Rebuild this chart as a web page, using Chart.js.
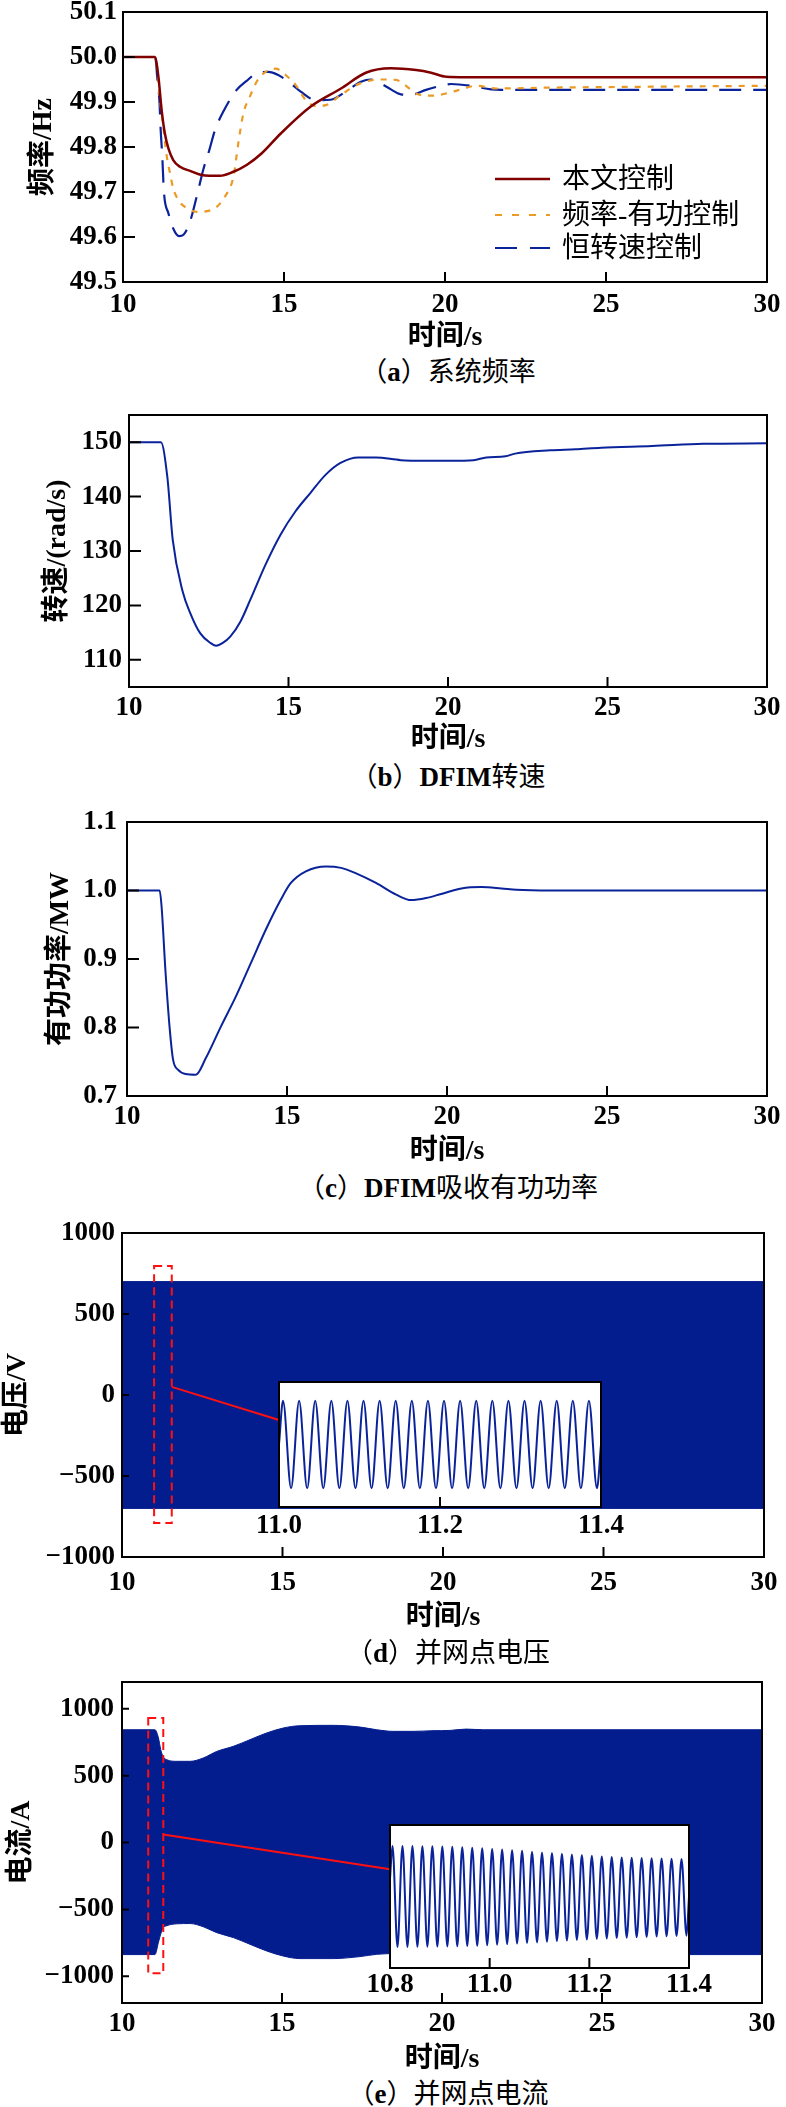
<!DOCTYPE html>
<html>
<head>
<meta charset="utf-8">
<script src="https://cdn.jsdelivr.net/npm/chart.js@4.4.1/dist/chart.umd.min.js"></script>
<style>
  body { margin: 0; background: #fff; }
  #page { position: relative; width: 786px; height: 2107px; overflow: hidden; background: #fff; }
  canvas { position: absolute; }
  .cap { position: absolute; left: 148px; width: 600px; text-align: center; font: 27px/28px 'Liberation Serif', 'Noto Sans CJK SC', serif; color: #000; }
  .leg { position: absolute; left: 562px; font: 28px/28px 'Liberation Serif', 'Noto Sans CJK SC', serif; color: #000; white-space: nowrap; }
  .legline { position: absolute; left: 495px; }
</style>
</head>
<body>
<div id="page">
  <canvas id="pa"></canvas>
  <canvas id="pb"></canvas>
  <canvas id="pc"></canvas>
  <canvas id="pd"></canvas>
  <canvas id="pe"></canvas>
  <canvas id="insd"></canvas>
  <canvas id="inse"></canvas>
</div>
<script>
// ---- data ----
const xTicks = [10, 15, 20, 25, 30];

// (a) system frequency, Hz
const seriesNames = ['本文控制', '频率-有功控制', '恒转速控制'];
const tRed = [10, 10.99, 11.10, 11.20, 11.30, 11.41, 11.56, 11.77, 12.08, 12.44, 13.01, 13.43, 13.84, 14.31, 14.90, 15.83, 16.77, 17.54, 18.32, 19.10, 19.57, 20.04, 20.66, 30];
const fRed = [50.0, 50.0, 49.956, 49.882, 49.830, 49.797, 49.771, 49.756, 49.747, 49.738, 49.736, 49.745, 49.760, 49.786, 49.830, 49.890, 49.930, 49.965, 49.975, 49.971, 49.965, 49.956, 49.955, 49.955];
const tOrange = [10, 11.0, 11.15, 11.25, 11.36, 11.46, 11.56, 11.72, 11.98, 12.29, 12.65, 12.91, 13.17, 13.43, 13.58, 13.74, 13.94, 14.15, 14.43, 14.74, 15.05, 15.36, 15.68, 15.99, 16.30, 16.77, 17.39, 18.01, 18.48, 18.79, 19.10, 19.57, 20.04, 20.5, 20.97, 21.59, 23.3, 26.43, 30];
const fOrange = [50.0, 50.0, 49.904, 49.845, 49.779, 49.742, 49.708, 49.682, 49.664, 49.656, 49.658, 49.667, 49.690, 49.734, 49.808, 49.875, 49.912, 49.945, 49.967, 49.974, 49.960, 49.938, 49.904, 49.891, 49.893, 49.916, 49.942, 49.950, 49.949, 49.936, 49.919, 49.914, 49.919, 49.928, 49.936, 49.930, 49.932, 49.934, 49.936];
const tBlue = [10, 11.0, 11.07, 11.13, 11.17, 11.22, 11.27, 11.41, 11.56, 11.74, 11.88, 12.08, 12.29, 12.49, 12.68, 12.86, 13.17, 13.53, 13.84, 14.15, 14.51, 14.82, 15.21, 15.52, 15.99, 16.45, 16.92, 17.39, 17.70, 18.01, 18.32, 18.63, 18.94, 19.41, 19.88, 20.19, 20.81, 21.43, 21.74, 30];
const fBlue = [50.0, 50.0, 49.949, 49.904, 49.838, 49.779, 49.701, 49.653, 49.619, 49.602, 49.605, 49.634, 49.690, 49.749, 49.793, 49.838, 49.886, 49.927, 49.947, 49.964, 49.967, 49.960, 49.941, 49.923, 49.904, 49.905, 49.923, 49.945, 49.950, 49.941, 49.928, 49.917, 49.916, 49.927, 49.936, 49.940, 49.936, 49.928, 49.927, 49.927];
const yTicksA = [49.5, 49.6, 49.7, 49.8, 49.9, 50.0, 50.1];

// (b) DFIM speed, rad/s
const tB = [10, 11.0, 11.2, 11.37, 11.68, 11.92, 12.23, 12.55, 12.73, 12.94, 13.18, 13.5, 13.8, 14.28, 14.75, 15.22, 15.69, 16.16, 16.63, 17.19, 17.74, 18.52, 19.3, 20.09, 20.8, 21.2, 21.8, 22.1, 23.2, 24.0, 24.8, 26.4, 28.0, 30];
const wB = [150, 150, 143.7, 132.1, 122.6, 118.6, 114.9, 113.1, 112.6, 113.1, 114.3, 117.1, 121.0, 127.5, 133.0, 137.3, 140.7, 144.0, 146.2, 147.2, 147.2, 146.7, 146.6, 146.6, 146.7, 147.2, 147.4, 147.9, 148.5, 148.7, 149.0, 149.3, 149.7, 149.8];
const yTicksB = [110, 120, 130, 140, 150];

// (c) DFIM active power, MW
const tC = [10, 11.02, 11.08, 11.2, 11.33, 11.44, 11.6, 11.83, 12.15, 12.46, 12.93, 13.4, 13.87, 14.34, 14.8, 15.12, 15.59, 16.22, 16.69, 17.16, 17.78, 18.41, 18.88, 19.35, 19.82, 20.45, 21.08, 21.7, 22.17, 23.27, 30];
const pC = [1.0, 1.0, 0.977, 0.884, 0.801, 0.753, 0.738, 0.732, 0.731, 0.755, 0.801, 0.845, 0.894, 0.943, 0.986, 1.011, 1.028, 1.035, 1.033, 1.025, 1.011, 0.994, 0.986, 0.989, 0.995, 1.003, 1.005, 1.003, 1.001, 1.0, 1.0];
const yTicksC = [0.7, 0.8, 0.9, 1.0, 1.1];

// (d) PCC voltage envelope, V
const tD = [10, 30];
const upperD = [700, 700];
const lowerD = [-700, -700];
const yTicksD = [-1000, -500, 0, 500, 1000];
const insetDTime = [11.000, 11.005, 11.015, 11.025, 11.035, 11.045, 11.055, 11.065, 11.075, 11.085, 11.095, 11.105, 11.115, 11.125, 11.135, 11.145, 11.155, 11.165, 11.175, 11.185, 11.195, 11.205, 11.215, 11.225, 11.235, 11.245, 11.255, 11.265, 11.275, 11.285, 11.295, 11.305, 11.315, 11.325, 11.335, 11.345, 11.355, 11.365, 11.375, 11.385, 11.395, 11.400];
const insetDVal = [0, 700, -700, 700, -700, 700, -700, 700, -700, 700, -700, 700, -700, 700, -700, 700, -700, 700, -700, 700, -700, 700, -700, 700, -700, 700, -700, 700, -700, 700, -700, 700, -700, 700, -700, 700, -700, 700, -700, 700, -700, 0];
const insetDTicks = [11.0, 11.2, 11.4];

// (e) PCC current envelope, A
const tE = [10, 11.03, 11.14, 11.21, 11.29, 11.40, 11.71, 12.13, 12.54, 12.96, 13.48, 14.0, 14.52, 15.04, 15.56, 16.60, 17.44, 17.96, 18.48, 19.1, 19.72, 20.25, 20.75, 21.3, 30];
const upperE = [843, 843, 781, 694, 640, 619, 607, 607, 632, 681, 719, 769, 819, 856, 873, 876, 863, 843, 831, 831, 836, 838, 848, 843, 843];
const lowerE = [-838, -838, -745, -685, -637, -622, -608, -606, -630, -674, -711, -761, -811, -849, -868, -868, -853, -836, -830, -828, -830, -836, -838, -838, -838];
const yTicksE = [-1000, -500, 0, 500, 1000];
const insetETime = [10.800, 10.805, 10.815, 10.825, 10.835, 10.845, 10.855, 10.865, 10.875, 10.885, 10.895, 10.905, 10.915, 10.925, 10.935, 10.945, 10.955, 10.965, 10.975, 10.985, 10.995, 11.005, 11.015, 11.025, 11.035, 11.045, 11.055, 11.065, 11.075, 11.085, 11.095, 11.105, 11.115, 11.125, 11.135, 11.145, 11.155, 11.165, 11.175, 11.185, 11.195, 11.205, 11.215, 11.225, 11.235, 11.245, 11.255, 11.265, 11.275, 11.285, 11.295, 11.305, 11.315, 11.325, 11.335, 11.345, 11.355, 11.365, 11.375, 11.385, 11.395, 11.400];
const insetEVal = [300, 848, -845, 848, -845, 846, -844, 845, -842, 843, -840, 840, -838, 835, -835, 828, -830, 820, -825, 810, -818, 798, -808, 788, -798, 778, -790, 768, -780, 752, -770, 738, -760, 728, -750, 718, -740, 706, -730, 695, -722, 684, -712, 672, -705, 664, -698, 656, -692, 650, -685, 645, -678, 641, -672, 638, -667, 634, -662, 629, -658, 0];
const insetETicks = [10.8, 11.0, 11.2, 11.4];

const captions = ['（a）系统频率', '（b）DFIM转速', '（c）DFIM吸收有功功率', '（d）并网点电压', '（e）并网点电流'];

// ---- styling ----
const RED = '#800000', ORANGE = '#eb9a26', BLUE = '#0b239a', BAND = '#041d8e';
const SERIF = "'Liberation Serif','Noto Sans CJK SC',serif";
const tickFont = { family: SERIF, size: 27, weight: 'bold', lineHeight: 1 };
const titleFont = { family: SERIF, size: 28, weight: 'bold', lineHeight: 1 };
Chart.defaults.color = '#000';

const pts = (t, v) => t.map((x, i) => ({ x: x, y: v[i] }));
const fmt = d => v => (v < 0 ? '\u2212' : '') + Math.abs(v).toFixed(d);
const fixTicks = list => s => { s.ticks = list.map(v => ({ value: v })); };

// box around the plot + inward tick marks
const framePlugin = {
  id: 'frame',
  afterDatasetsDraw(chart, args, o) {
    const { ctx, chartArea: a, scales: { x, y } } = chart;
    ctx.save();
    ctx.strokeStyle = '#000';
    ctx.lineWidth = 2;
    ctx.beginPath();
    x.ticks.forEach(t => {
      const p = x.getPixelForValue(t.value);
      if (p > a.left + 2 && p < a.right - 2) { ctx.moveTo(p, a.bottom); ctx.lineTo(p, a.bottom - o.xLen); }
    });
    if (o.yLen) y.ticks.forEach(t => {
      const p = y.getPixelForValue(t.value);
      if (p > a.top + 2 && p < a.bottom - 2) { ctx.moveTo(a.left, p); ctx.lineTo(a.left + o.yLen, p); }
    });
    ctx.stroke();
    ctx.strokeRect(a.left, a.top, a.right - a.left, a.bottom - a.top);
    ctx.restore();
  }
};

// red dashed zoom window + connector
const zoomPlugin = {
  id: 'zoomMark',
  afterDatasetsDraw(chart, args, o) {
    const { ctx, scales: { x, y } } = chart;
    const px = v => x.getPixelForValue(v), py = v => y.getPixelForValue(v);
    ctx.save();
    ctx.strokeStyle = '#ff1010';
    ctx.lineWidth = 2;
    ctx.setLineDash([8, 5]);
    ctx.strokeRect(px(o.box[0]), py(o.box[3]), px(o.box[1]) - px(o.box[0]), py(o.box[2]) - py(o.box[3]));
    ctx.setLineDash([]);
    ctx.beginPath();
    ctx.moveTo(px(o.from[0]), py(o.from[1]));
    ctx.lineTo(px(o.to[0]), py(o.to[1]));
    ctx.stroke();
    ctx.restore();
  }
};

const whiteArea = {
  id: 'whiteArea',
  beforeDatasetsDraw(chart) {
    const { ctx, chartArea: a } = chart;
    ctx.save();
    ctx.fillStyle = '#fff';
    ctx.fillRect(a.left, a.top, a.right - a.left, a.bottom - a.top);
    ctx.restore();
  }
};

function line(t, v, color, width, dash) {
  return { data: pts(t, v), borderColor: color, borderWidth: width, borderDash: dash || [],
           pointRadius: 0, fill: false, cubicInterpolationMode: 'monotone' };
}
function band(t, up, low) {
  return [
    { data: pts(t, up), borderColor: BAND, borderWidth: 1, pointRadius: 0, backgroundColor: BAND, fill: '+1', cubicInterpolationMode: 'monotone' },
    { data: pts(t, low), borderColor: BAND, borderWidth: 1, pointRadius: 0, fill: false, cubicInterpolationMode: 'monotone' }
  ];
}

// g: canvas top/bottom, plot area T/B/L/R (page px)
function panel(id, g, datasets, y, zoom) {
  const cv = document.getElementById(id);
  cv.width = 786; cv.height = g.bottom - g.top;
  cv.style.left = '0px'; cv.style.top = g.top + 'px';
  return new Chart(cv, {
    type: 'line',
    data: { datasets },
    options: {
      responsive: false,
      animation: false,
      events: [],
      layout: { padding: { left: 0, top: g.T - g.top, right: 786 - g.R, bottom: 0 } },
      plugins: {
        legend: { display: false }, tooltip: { enabled: false },
        frame: { xLen: 10, yLen: g.yLen },
        zoomMark: zoom || false
      },
      scales: {
        x: {
          type: 'linear', min: 10, max: 30,
          grid: { display: false, drawTicks: false }, border: { display: false },
          afterBuildTicks: fixTicks(xTicks),
          afterFit: s => { s.height = g.bottom - g.B; s.paddingLeft = 0; s.paddingRight = 0; },
          ticks: { font: tickFont, padding: g.xPad, maxRotation: 0, autoSkip: false, callback: v => String(v) },
          title: { display: true, text: '时间/s', font: titleFont, padding: 0 }
        },
        y: {
          type: 'linear', min: y.min, max: y.max,
          grid: { display: false, drawTicks: false }, border: { display: false },
          afterBuildTicks: fixTicks(y.ticks),
          afterFit: s => { s.width = g.L; s.paddingTop = 0; s.paddingBottom = 0; },
          ticks: { font: tickFont, padding: g.yPad, autoSkip: false, callback: fmt(y.dec) },
          title: { display: true, text: y.title, font: titleFont, padding: { top: g.yTitle - 14, bottom: 0 } }
        }
      }
    },
    plugins: [framePlugin, zoomPlugin]
  });
}

function inset(id, g, t, v, xr, yr, ticks) {
  const cv = document.getElementById(id);
  cv.width = g.w; cv.height = g.h;
  cv.style.left = g.left + 'px'; cv.style.top = g.top + 'px';
  return new Chart(cv, {
    type: 'line',
    data: { datasets: [line(t, v, BLUE, 2)] },
    options: {
      responsive: false,
      animation: false,
      events: [],
      layout: { padding: { left: g.L - g.left, top: g.T - g.top, right: g.left + g.w - g.R, bottom: 0 } },
      plugins: { legend: { display: false }, tooltip: { enabled: false }, frame: { xLen: 10, yLen: 0 } },
      scales: {
        x: {
          type: 'linear', min: xr[0], max: xr[1],
          grid: { display: false, drawTicks: false }, border: { display: false },
          afterBuildTicks: fixTicks(ticks),
          afterFit: s => { s.height = g.top + g.h - g.B; s.paddingLeft = 0; s.paddingRight = 0; },
          ticks: { font: tickFont, padding: g.xPad, maxRotation: 0, autoSkip: false, callback: fmt(1) }
        },
        y: { type: 'linear', display: false, min: yr[0], max: yr[1] }
      }
    },
    plugins: [whiteArea, framePlugin]
  });
}

panel('pa', { top: 0, bottom: 352, T: 12, B: 282, L: 123, R: 767, xPad: 10, yPad: 6, yTitle: 44, yLen: 12 },
  [line(tRed, fRed, RED, 2.5), line(tOrange, fOrange, ORANGE, 2.2, [6, 7]), line(tBlue, fBlue, BLUE, 2.2, [22, 12])],
  { min: 49.5, max: 50.1, ticks: yTicksA, dec: 1, title: '频率/Hz' });

panel('pb', { top: 395, bottom: 754, T: 415, B: 687, L: 129, R: 767, xPad: 8, yPad: 7, yTitle: 58, yLen: 12 },
  [line(tB, wB, BLUE, 2)],
  { min: 105, max: 155, ticks: yTicksB, dec: 0, title: '转速/(rad/s)' });

panel('pc', { top: 800, bottom: 1166, T: 822, B: 1096, L: 127, R: 767, xPad: 8, yPad: 10, yTitle: 61, yLen: 12 },
  [line(tC, pC, BLUE, 2)],
  { min: 0.7, max: 1.1, ticks: yTicksC, dec: 1, title: '有功功率/MW' });

panel('pd', { top: 1215, bottom: 1632, T: 1233, B: 1557, L: 122, R: 764, xPad: 13, yPad: 7, yTitle: 18, yLen: 7 },
  band(tD, upperD, lowerD),
  { min: -1000, max: 1000, ticks: yTicksD, dec: 0, title: '电压/V' },
  { box: [11.0, 11.55, -790, 796], from: [11.55, 50], to: [14.89, -154] });

panel('pe', { top: 1665, bottom: 2074, T: 1682, B: 2003, L: 122, R: 762, xPad: 8, yPad: 8, yTitle: 22, yLen: 7 },
  band(tE, upperE, lowerE),
  { min: -1200, max: 1200, ticks: yTicksE, dec: 0, title: '电流/A' },
  { box: [10.82, 11.29, -978, 930], from: [11.29, 60], to: [18.375, -200] });

inset('insd', { left: 229, top: 1372, w: 422, h: 175, L: 279, R: 601, T: 1382, B: 1507, xPad: 6 },
  insetDTime, insetDVal, [11.0, 11.4], [-1000, 1000], insetDTicks);

inset('inse', { left: 340, top: 1815, w: 400, h: 190, L: 390, R: 689, T: 1825, B: 1968, xPad: 4 },
  insetETime, insetEVal, [10.8, 11.4], [-1200, 1200], insetETicks);

// legend of panel (a)
const page = document.getElementById('page');
const legStyles = [
  { color: RED, width: 2.5, dash: '' },
  { color: ORANGE, width: 2.2, dash: '7 10' },
  { color: BLUE, width: 2.2, dash: '22 13' }
];
const legRows = [179, 215, 248];
seriesNames.forEach((name, i) => {
  const s = legStyles[i];
  const svg = document.createElementNS('http://www.w3.org/2000/svg', 'svg');
  svg.setAttribute('class', 'legline');
  svg.setAttribute('width', '56'); svg.setAttribute('height', '6');
  svg.style.top = (legRows[i] - 3) + 'px';
  svg.innerHTML = '<line x1="0" y1="3" x2="55" y2="3" stroke="' + s.color + '" stroke-width="' + s.width + '"' +
    (s.dash ? ' stroke-dasharray="' + s.dash + '"' : '') + '/>';
  page.appendChild(svg);
  const d = document.createElement('div');
  d.className = 'leg';
  d.style.top = (legRows[i] - 14) + 'px';
  d.textContent = name;
  page.appendChild(d);
});

// captions under each panel
const capRows = [372, 777, 1188, 1653, 2094];
captions.forEach((c, i) => {
  const d = document.createElement('div');
  d.className = 'cap';
  d.style.top = (capRows[i] - 14) + 'px';
  d.innerHTML = c.replace(/[A-Za-z]+/g, '<b>$&</b>');
  page.appendChild(d);
});
</script>
</body>
</html>
